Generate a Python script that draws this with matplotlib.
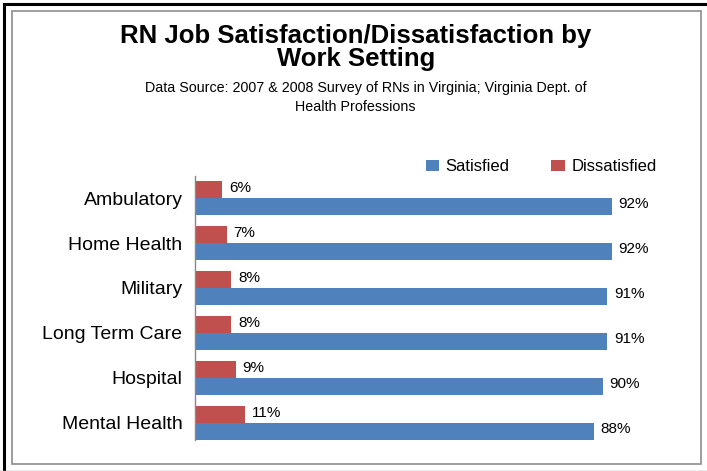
import numpy as np
import matplotlib.pyplot as plt
from matplotlib.patches import Rectangle
from matplotlib.lines import Line2D

settings = ['Ambulatory', 'Home Health', 'Military', 'Long Term Care',
            'Hospital', 'Mental Health']
satisfied = [92, 92, 91, 91, 90, 88]
dissatisfied = [6, 7, 8, 8, 9, 11]

title_lines = ['RN Job Satisfaction/Dissatisfaction by', 'Work Setting']
subtitle_lines = ['Data Source: 2007 & 2008 Survey of RNs in Virginia; Virginia Dept. of',
                  'Health Professions']

plt.rcParams['font.family'] = ['Liberation Sans', 'DejaVu Sans']

W, H = 707, 471
fig = plt.figure(figsize=(W / 100, H / 100), dpi=100)

# frames around the chart area
fig.add_artist(Rectangle((3.5 / W, -0.1), 1.2, 1 - 4 / H + 0.1, fill=False,
                         lw=2.2, ec='black', transform=fig.transFigure))
fig.add_artist(Line2D([0, 1], [1 - 470.5 / H] * 2, color='#a0a0a0', lw=1,
                      transform=fig.transFigure))
fig.add_artist(Rectangle((11.5 / W, 1 - 464 / H), (701 - 11.5) / W, (464 - 10.5) / H,
                         fill=False, lw=1.2, ec='#8c8c8c', transform=fig.transFigure))

# title and source, one line at a time (baselines in pixels)
for line, base in zip(title_lines, [43, 66]):
    fig.text(356 / W, 1 - base / H, line, ha='center', va='baseline',
             fontsize=18.5, fontweight='bold')
fig.text(366 / W, 1 - 92 / H, subtitle_lines[0], ha='center', va='baseline', fontsize=10.3)
fig.text(355 / W, 1 - 111 / H, subtitle_lines[1], ha='center', va='baseline', fontsize=10.3)

ax = fig.add_axes([195 / W, 1 - 440 / H, 453 / W, 264 / H])
y = np.arange(len(settings))
h = 0.367
red = ax.barh(y - h / 2, dissatisfied, height=h, color='#C0504D', label='Dissatisfied')
blue = ax.barh(y + h / 2, satisfied, height=h, color='#4F81BD', label='Satisfied')

for bars, vals in ((red, dissatisfied), (blue, satisfied)):
    for b, v in zip(bars, vals):
        ax.annotate(f'{v}%', (b.get_width(), b.get_y() + b.get_height() / 2),
                    xytext=(5, 1.5), textcoords='offset points',
                    ha='left', va='center', fontsize=11)

ax.set_xlim(0, 100)
ax.set_ylim(5.378, -0.489)
ax.set_yticks(y)
ax.set_yticklabels(settings, fontsize=14)
ax.set_xticks([])
ax.tick_params(axis='y', length=0, pad=9)
for s in ('top', 'right', 'bottom'):
    ax.spines[s].set_visible(False)
ax.spines['left'].set_color('#888888')
ax.spines['left'].set_linewidth(1)

fig.legend(handles=[blue, red], labels=['Satisfied', 'Dissatisfied'],
           loc='center', bbox_to_anchor=(541 / W, 1 - 167 / H), ncol=2,
           frameon=False, fontsize=12, handlelength=0.8, handleheight=0.7,
           handletextpad=0.4, columnspacing=2.5, borderpad=0)

fig.savefig('out.png', dpi=100)
